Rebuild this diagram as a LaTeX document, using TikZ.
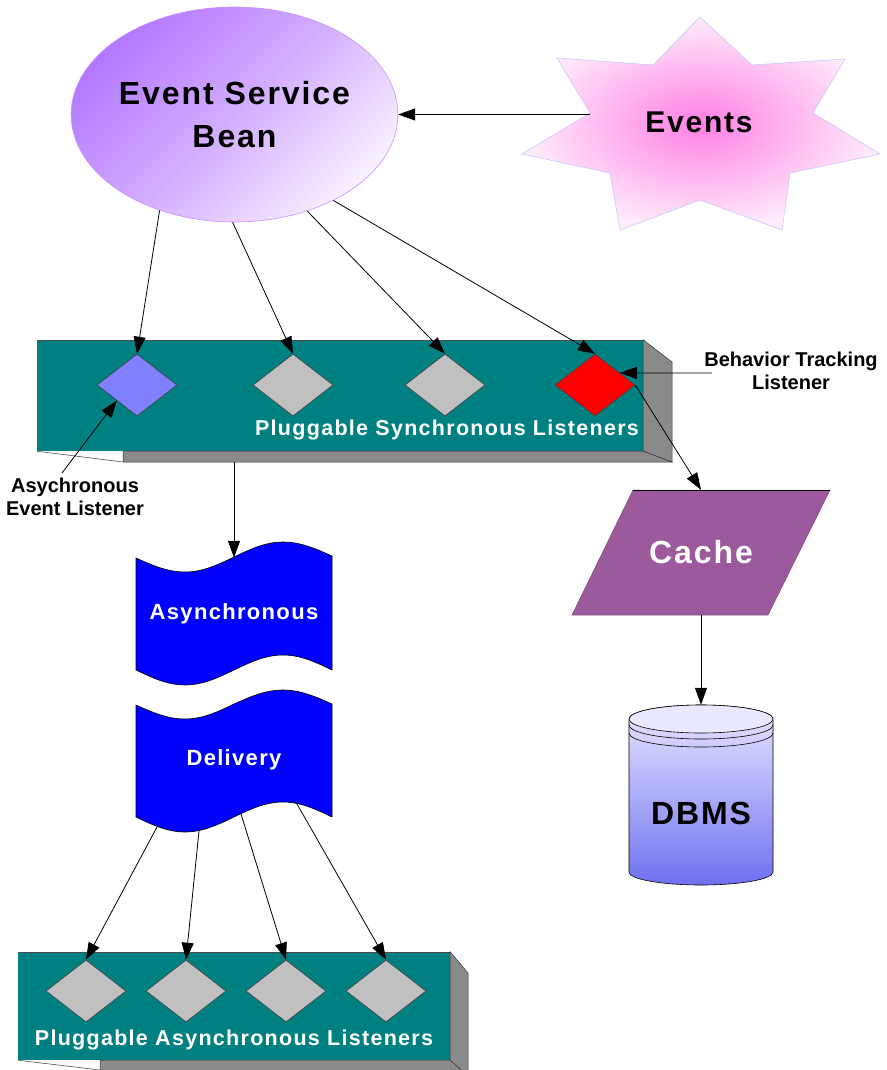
\documentclass[tikz,border=0pt]{standalone}
\usepackage{fontspec}
\setmainfont{Liberation Sans}
\newfontfamily\widesans[LetterSpace=6]{Liberation Sans}
\usetikzlibrary{shapes.geometric,arrows.meta}

\definecolor{barteal}{HTML}{008080}
\definecolor{sidegray}{HTML}{8A8A8A}
\definecolor{plugin}{HTML}{C0C0C0}
\definecolor{asyncplug}{HTML}{8080FF}
\definecolor{trackred}{HTML}{FF0000}
\definecolor{tapeblue}{HTML}{0000FF}
\definecolor{cachemauve}{HTML}{9C5A9C}
\definecolor{dbtop}{HTML}{E8E8FF}
\definecolor{dbbottom}{HTML}{7070F0}
\definecolor{beandark}{HTML}{B478FF}
\definecolor{beanlight}{HTML}{F8F0FF}
\definecolor{beanedge}{HTML}{C890FF}
\definecolor{starpink}{HTML}{FF7FE4}
\definecolor{starpale}{HTML}{FFECFA}
\definecolor{staredge}{HTML}{C8C8FF}

\begin{document}
\begin{tikzpicture}[x=1pt,y=-1pt,
  conn/.style={draw=black, line width=0.8pt, -{Triangle[length=17pt,width=12pt]}},
  listener/.style={diamond, minimum width=80pt, minimum height=62pt, inner sep=0pt,
                   draw=black!75, line width=0.6pt},
  barlabel/.style={text=white, font=\widesans\bfseries\fontsize{21.5}{24}\selectfont},
  bigtext/.style={font=\widesans\bfseries\fontsize{32}{43}\selectfont, align=center},
  tapetext/.style={text=white, font=\widesans\bfseries\fontsize{22}{26}\selectfont},
  note/.style={font=\bfseries\fontsize{20}{23}\selectfont, align=center},
  tape/.style={fill=tapeblue, draw=black, line width=0.6pt},
  face/.style={fill=sidegray, draw=black!80, line width=0.5pt}]

\useasboundingbox (0,0) rectangle (886,1070);

% ---- event service bean
\node[ellipse, minimum width=324pt, minimum height=215pt, inner sep=0pt,
      draw=beanedge, line width=0.6pt,
      top color=beandark, bottom color=beanlight, middle color=beandark!55!beanlight,
      shading angle=45, bigtext] (esb) at (234.5,114.5) {Event Service\\Bean};

% ---- events star
\path[draw=staredge, line width=0.6pt, inner color=starpink, outer color=starpale]
  (700,17) -- (752,65) -- (845,59) -- (813,113) -- (880,154) -- (790,173)
  -- (782,230) -- (700,200) -- (620,230) -- (610,173) -- (522,154)
  -- (590,113) -- (557,58) -- (653,65) -- cycle;
\node[font=\widesans\bfseries\fontsize{30}{36}\selectfont] (evt) at (699,122) {Events};
\coordinate (evin) at (590,114.5);

% ---- synchronous listener bar
\node[fill=barteal, minimum width=606pt, minimum height=111pt, inner sep=0pt] (sync) at (340,395.5) {};
\draw[black!70, line width=0.5pt] (sync.north west) -- (sync.north east);
\path[face] (sync.north east) -- (672,362) -- (672,462) -- (sync.south east) -- cycle;
\path[face] (123,451) -- (sync.south east) -- (672,462) -- (123,462) -- cycle;
\draw[black!80, line width=0.5pt] (sync.south west) -- (123,462);
\node[listener, fill=asyncplug] (s1) at (137,385) {};
\node[listener, fill=plugin]    (s2) at (293,385) {};
\node[listener, fill=plugin]    (s3) at (445,385) {};
\node[listener, fill=trackred]  (s4) at (595,385) {};
\node[barlabel] (synclbl) at (447,430) {Pluggable Synchronous Listeners};
\coordinate (syncbase) at (234,462);

% ---- asynchronous delivery tapes
\path[tape] (136,558) sin (185,572) cos (234,557) sin (283,542) cos (332,556)
  -- (332,670) sin (283,655) cos (234,670) sin (185,685) cos (136,670) -- cycle;
\node[tapetext, minimum width=196pt, minimum height=112pt, inner sep=0pt] (async) at (234,614) {Asynchronous};
\path[tape] (136,705) sin (185,719) cos (234,704) sin (283,690) cos (332,704)
  -- (332,817) sin (283,802) cos (234,817) sin (185,832) cos (136,817) -- cycle;
\node[tapetext, minimum width=196pt, minimum height=112pt, inner sep=0pt] (deliv) at (234,760) {Delivery};
\coordinate (dv1) at (157,827);
\coordinate (dv2) at (199,831);
\coordinate (dv3) at (241,814);
\coordinate (dv4) at (297,804);

% ---- cache
\path[fill=cachemauve, draw=cachemauve!80!black, line width=0.5pt]
  (633,490) -- (830,490) -- (768,615) -- (572,615) -- cycle;
\draw[black, line width=0.6pt] (633,490) -- (830,490);
\node[text=white, font=\widesans\bfseries\fontsize{32}{36}\selectfont,
      minimum width=190pt, minimum height=125pt, inner sep=0pt] (cache) at (701,552.5) {Cache};

% ---- database cylinder
\path[draw=black, line width=0.6pt, top color=dbtop, bottom color=dbbottom]
  (629,719) -- (629,872) arc[start angle=180, end angle=360, x radius=72pt, y radius=13pt]
  -- (773,719) arc[start angle=0, end angle=180, x radius=72pt, y radius=14pt] -- cycle;
\draw[black, line width=0.6pt, fill=dbtop] (701,719) ellipse [x radius=72pt, y radius=14pt];
\draw[black, line width=0.6pt] (629,725) arc[start angle=180, end angle=360, x radius=72pt, y radius=14pt];
\draw[black, line width=0.6pt] (629,733) arc[start angle=180, end angle=360, x radius=72pt, y radius=14pt];
\node[font=\widesans\bfseries\fontsize{32}{36}\selectfont,
      minimum width=144pt, minimum height=180pt, inner sep=0pt] (dbms) at (701,795)
      {\raisebox{-29.5pt}[0pt][0pt]{DBMS}};

% ---- asynchronous listener bar
\node[fill=barteal, minimum width=432pt, minimum height=108pt, inner sep=0pt] (asyncbar) at (234,1006) {};
\draw[black!70, line width=0.5pt] (asyncbar.north west) -- (asyncbar.north east);
\path[face] (asyncbar.north east) -- (468,973) -- (468,1080) -- (asyncbar.south east) -- cycle;
\path[face] (100,1060) -- (asyncbar.south east) -- (468,1076) -- (100,1076) -- cycle;
\draw[black!80, line width=0.5pt] (asyncbar.south west) -- (100,1070);
\node[listener, fill=plugin] (a1) at (86,991) {};
\node[listener, fill=plugin] (a2) at (186,991) {};
\node[listener, fill=plugin] (a3) at (286,991) {};
\node[listener, fill=plugin] (a4) at (386,991) {};
\node[barlabel] (asynclbl) at (234,1040) {Pluggable Asynchronous Listeners};

% ---- callout labels
\node[note] (ael) at (75,497) {Asychronous\\Event Listener};
\coordinate (aelfoot) at (62,473);
\node[note] (btl) at (791,371) {Behavior Tracking\\Listener};
\coordinate (btlfoot) at (712,373);

% ---- connectors
\draw[conn] (evin) -- (esb.east);
\draw[conn] (esb.232) -- (s1.north);
\draw[conn] (esb.269) -- (s2.north);
\draw[conn] (esb.307) -- (s3.north);
\draw[conn] (esb.319) -- (s4.north);
\draw[conn] (aelfoot) -- (s1.south west);
\draw[conn] (btlfoot) -- (s4.26);
\draw[conn] (s4.east) -- (cache.north);
\draw[conn] (cache.south) -- (dbms.north);
\draw[conn] (syncbase) -- (async.north);
\draw[conn] (dv1) -- (a1.north);
\draw[conn] (dv2) -- (a2.north);
\draw[conn] (dv3) -- (a3.north);
\draw[conn] (dv4) -- (a4.north);
\end{tikzpicture}
\end{document}
